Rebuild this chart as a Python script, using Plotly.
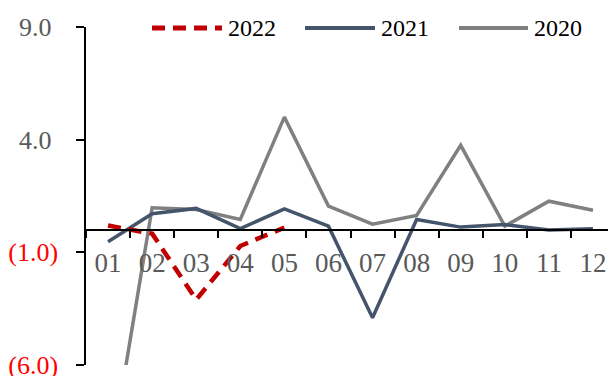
import plotly.graph_objects as go

months = ["01", "02", "03", "04", "05", "06", "07", "08", "09", "10", "11", "12"]
s2022 = [0.19, -0.17, -3.1, -0.72, 0.1]
s2021 = [-0.53, 0.71, 0.95, 0.05, 0.93, 0.16, -3.9, 0.46, 0.12, 0.23, -0.01, 0.05]
s2020 = [-10.8, 0.98, 0.9, 0.46, 5.0, 1.05, 0.25, 0.64, 3.75, 0.16, 1.27, 0.87]
ytick_vals = [-6, -1, 4, 9]
ytick_text = ['<span style="color:#FF0000">(6.0)</span>',
              '<span style="color:#FF0000">(1.0)</span>',
              '4.0\u00a0', '9.0\u00a0']

C22, C21, C20 = "#C00000", "#44546A", "#808080"
FONT = "Liberation Serif"

fig = go.Figure()
fig.add_trace(go.Scatter(x=months, y=s2020, mode="lines", name="2020",
                         line=dict(color=C20, width=3.5)))
fig.add_trace(go.Scatter(x=months, y=s2021, mode="lines", name="2021",
                         line=dict(color=C21, width=3.5)))
fig.add_trace(go.Scatter(x=months[:len(s2022)], y=s2022, mode="lines", name="2022",
                         line=dict(color=C22, width=4.5, dash="13px,8px")))

# page body has an 8px margin: plot area on screen spans x 86..615, y 27..365
ymin, ymax = -6, 9
fig.update_layout(
    width=608, height=368,
    margin=dict(l=78, r=1, t=19, b=11, autoexpand=False),
    paper_bgcolor="white", plot_bgcolor="white",
    showlegend=False,
    font=dict(family=FONT, color="#595959"),
    xaxis=dict(type="category", range=[-0.5, 11.5], anchor="free",
               position=(0 - ymin) / (ymax - ymin), automargin=False,
               showline=True, linecolor="black", linewidth=1.5,
               ticks="outside", tickson="boundaries", ticklen=7, tickcolor="black",
               tickwidth=1.5, showgrid=False, zeroline=False,
               tickfont=dict(family=FONT, size=27, color="#595959"),
               ticklabelstandoff=9),
    yaxis=dict(range=[ymin, ymax], tickvals=ytick_vals, ticktext=ytick_text,
               automargin=False, ticklabeloverflow="allow",
               showline=True, linecolor="black", linewidth=1.5,
               ticks="outside", ticklen=8, tickcolor="black", tickwidth=1.5,
               showgrid=False, zeroline=False,
               tickfont=dict(family=FONT, size=26, color="#595959"),
               ticklabelstandoff=13),
)

# legend drawn at the top (screen px -> paper fraction of the plot area)
W = 529
H = 338
def px(x):
    return (x - 86) / W
def py(y):
    return (365 - y) / H

legend_items = [("2022", C22, "13px,8px", 152, 222, 5),
                ("2021", C21, "solid", 305, 375, 4),
                ("2020", C20, "solid", 459, 528, 4)]
for name, col, dash, x0, x1, w in legend_items:
    fig.add_shape(type="line", xref="paper", yref="paper",
                  x0=px(x0), x1=px(x1), y0=py(28), y1=py(28),
                  line=dict(color=col, width=w, dash=dash))
    fig.add_annotation(xref="paper", yref="paper", x=px(x1 + 4), y=py(28),
                       text=name, showarrow=False, xanchor="left", yanchor="middle",
                       font=dict(family=FONT, size=24, color="black"))

fig.write_html("out.html")
